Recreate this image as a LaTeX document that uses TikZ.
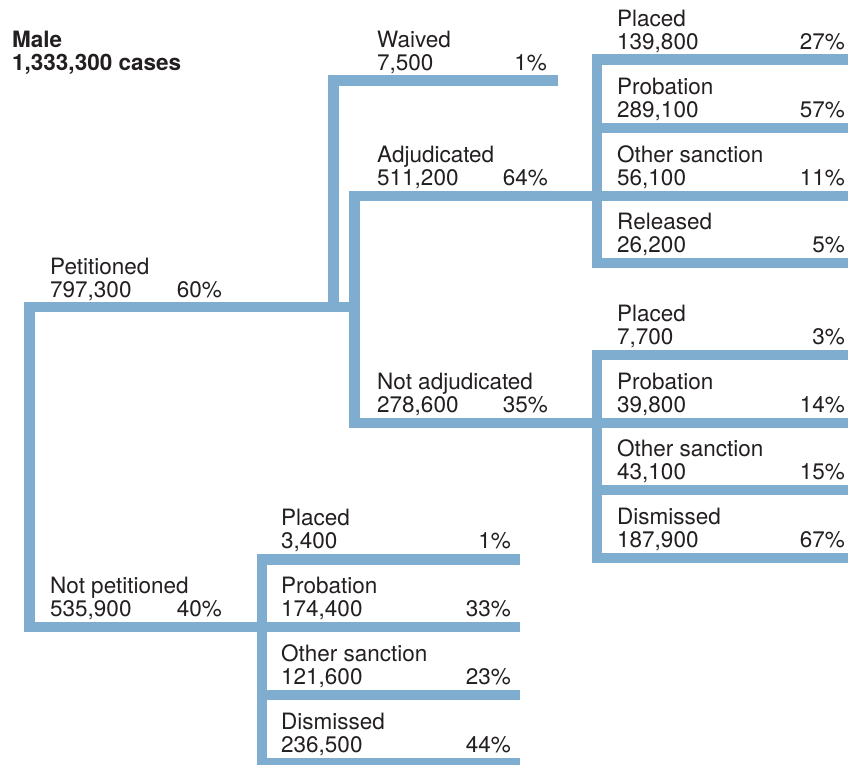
\documentclass[tikz,border=0pt]{standalone}
\usepackage{fontspec}
\setmainfont{TeX Gyre Heros}
\definecolor{branch}{RGB}{127,173,208}
\definecolor{ink}{RGB}{35,31,32}

% #1 id, #2 left x, #3 baseline of the count line, #4 right x of the share,
% #5 outcome, #6 count, #7 share
\newcommand\branchlabel[7]{%
  \node[lbl] (#1-n) at (#2,#3-23) {#5};
  \node[lbl] (#1-c) at (#2,#3) {#6};
  \node[pct] (#1-p) at (#4,#3) {#7};}

\begin{document}
\begin{tikzpicture}[x=1pt,y=-1pt,
  branchline/.style={draw=branch,line width=10.5pt,line join=miter,line cap=butt},
  lbl/.style={anchor=base west,inner sep=0pt,text=ink,font=\fontsize{22.5}{23}\selectfont},
  pct/.style={anchor=base east,inner sep=0pt,text=ink,font=\fontsize{22.5}{23}\selectfont},
  headline/.style={lbl,font=\fontsize{22.5}{23}\selectfont\bfseries}]
\useasboundingbox (0,0) rectangle (848,764);

% ---- junction points of the tree ----
\coordinate (pet)       at (29.5,307);
\coordinate (petEnd)    at (354.5,307);
\coordinate (notpet)    at (29.5,627);
\coordinate (notpetEnd) at (262,627);
\coordinate (wvBase)    at (333.5,307);
\coordinate (wvCorner)  at (333.5,80.5);
\coordinate (wvEnd)     at (558,80.5);
\coordinate (adjTop)    at (354.5,196);
\coordinate (adjBot)    at (354.5,423);
\coordinate (adjEnd)    at (597,196);
\coordinate (nadjEnd)   at (597,423);
\foreach \yy/\k in {59.5/a,128/b,196/c,263/d}{
  \coordinate (ga\k) at (597,\yy);
  \coordinate (ga\k r) at (870,\yy);}
\foreach \yy/\k in {355/a,423/b,490/c,558/d}{
  \coordinate (gb\k) at (597,\yy);
  \coordinate (gb\k r) at (870,\yy);}
\foreach \yy/\k in {559.5/a,627/b,695/c,763/d}{
  \coordinate (gc\k) at (262,\yy);
  \coordinate (gc\k r) at (520,\yy);}
\coordinate (gcFoot) at (262,780);

% ---- branches ----
\begin{scope}
  \clip (0,0) rectangle (848,764);
  \draw[branchline] (petEnd) -- (pet) -- (notpet) -- (notpetEnd);
  \draw[branchline] (wvEnd) -- (wvCorner) -- (wvBase);
  \draw[branchline] (adjEnd) -- (adjTop) -- (adjBot) -- (nadjEnd);
  % adjudicated outcomes
  \draw[branchline] (gaar) -- (gaa) -- (gad) -- (gadr);
  \draw[branchline] (gab) -- (gabr);
  \draw[branchline] (gac) -- (gacr);
  % not adjudicated outcomes
  \draw[branchline] (gbar) -- (gba) -- (gbd) -- (gbdr);
  \draw[branchline] (gbb) -- (gbbr);
  \draw[branchline] (gbc) -- (gbcr);
  % not petitioned outcomes
  \draw[branchline] (gcar) -- (gca) -- (gcFoot);
  \draw[branchline] (gcb) -- (gcbr);
  \draw[branchline] (gcc) -- (gccr);
  \draw[branchline] (gcd) -- (gcdr);
\end{scope}

% ---- labels ----
\node[headline] (male) at (12,47) {Male};
\node[headline] (total) at (12,70) {1,333,300 cases};

\branchlabel{waived}{377}{70}{547}{Waived}{7,500}{1\%}
\branchlabel{adj}{377}{185}{548}{Adjudicated}{511,200}{64\%}
\branchlabel{nadj}{377}{412}{548}{Not adjudicated}{278,600}{35\%}
\branchlabel{petit}{50}{297}{222}{Petitioned}{797,300}{60\%}
\branchlabel{npetit}{50}{616}{222}{Not petitioned}{535,900}{40\%}

\branchlabel{aPlaced}{617}{49}{845}{Placed}{139,800}{27\%}
\branchlabel{aProb}{617}{117}{845}{Probation}{289,100}{57\%}
\branchlabel{aOther}{617}{185}{845}{Other sanction}{56,100}{11\%}
\branchlabel{aRel}{617}{252}{845}{Released}{26,200}{5\%}

\branchlabel{bPlaced}{617}{344}{845}{Placed}{7,700}{3\%}
\branchlabel{bProb}{617}{412}{845}{Probation}{39,800}{14\%}
\branchlabel{bOther}{617}{479}{845}{Other sanction}{43,100}{15\%}
\branchlabel{bDism}{617}{547}{845}{Dismissed}{187,900}{67\%}

\branchlabel{cPlaced}{281}{548}{511}{Placed}{3,400}{1\%}
\branchlabel{cProb}{281}{616}{511}{Probation}{174,400}{33\%}
\branchlabel{cOther}{281}{684}{511}{Other sanction}{121,600}{23\%}
\branchlabel{cDism}{281}{752}{511}{Dismissed}{236,500}{44\%}
\end{tikzpicture}
\end{document}
